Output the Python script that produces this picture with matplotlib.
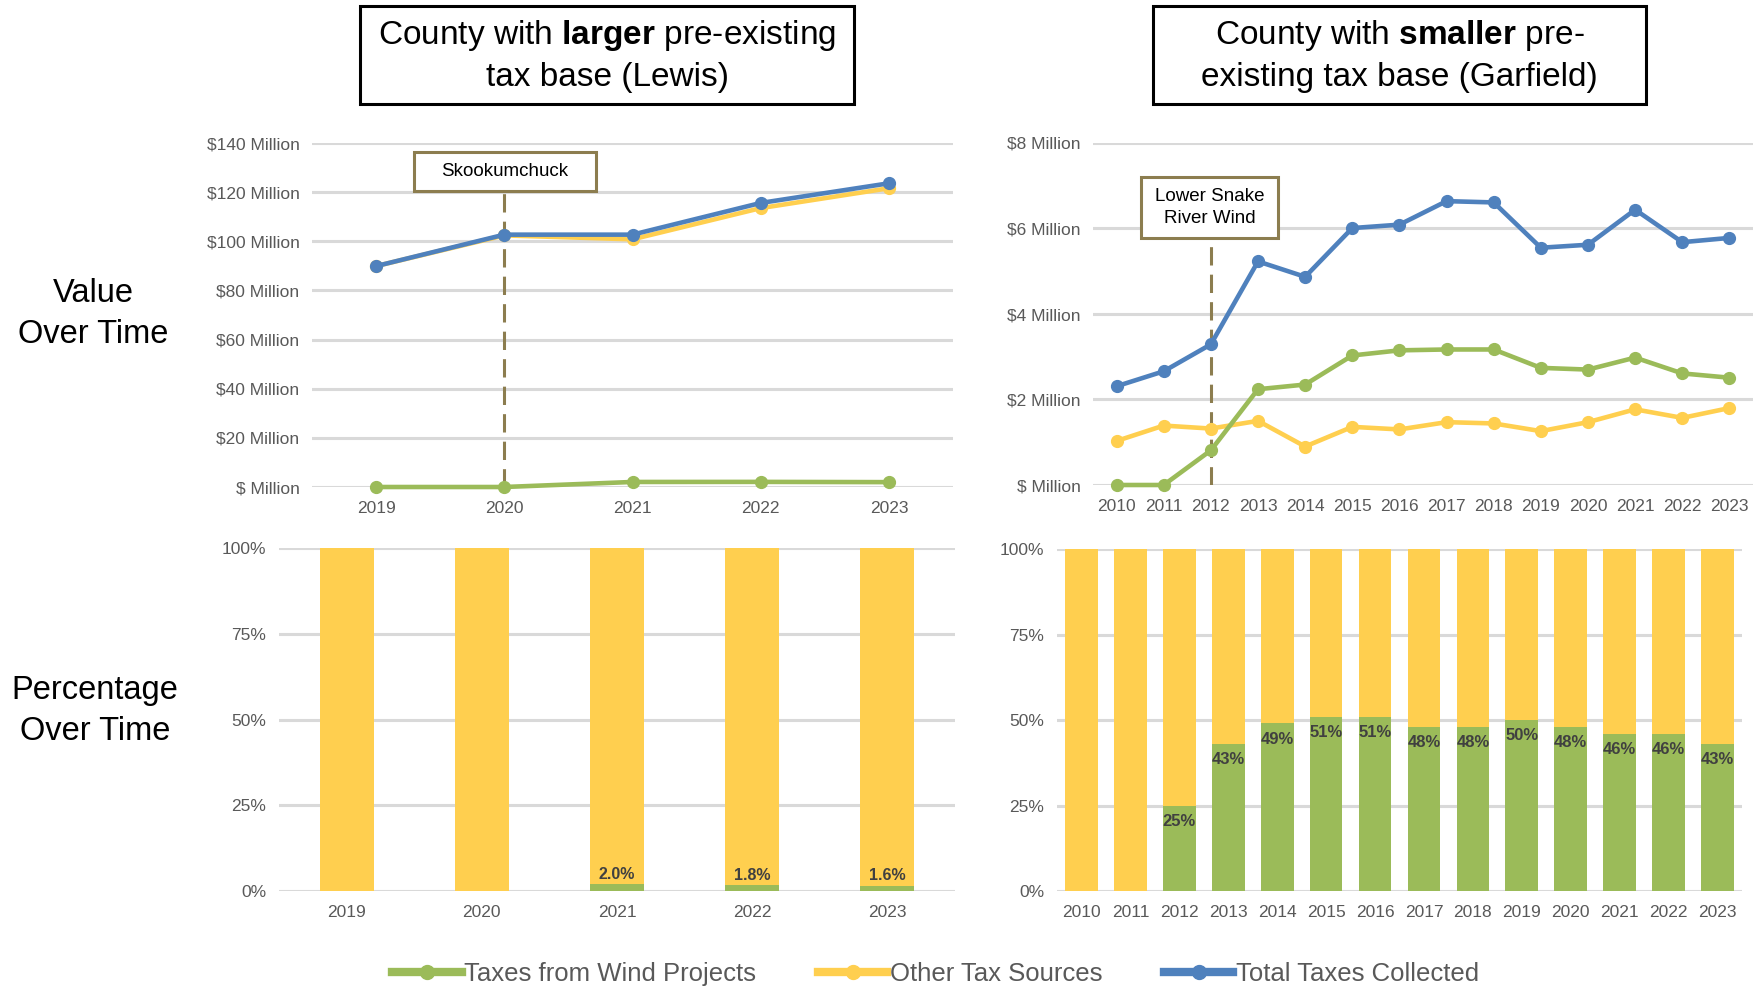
import matplotlib
matplotlib.use('Agg')
import matplotlib.pyplot as plt
from matplotlib.lines import Line2D
from matplotlib.patches import Rectangle

plt.rcParams['font.family'] = ['Liberation Sans', 'DejaVu Sans']
plt.rcParams['mathtext.fontset'] = 'custom'
plt.rcParams['mathtext.rm'] = 'Liberation Sans'
plt.rcParams['mathtext.bf'] = 'Liberation Sans:bold'

# Lewis County, $ millions
lewis_years = ['2019', '2020', '2021', '2022', '2023']
lewis_wind = [0.0, 0.0, 2.05, 2.08, 1.98]
lewis_other = [89.9, 102.4, 100.8, 113.5, 121.6]
lewis_total = [89.9, 102.7, 102.7, 115.6, 123.6]
lewis_wind_pct = [0.0, 0.0, 2.0, 1.8, 1.6]

# Garfield County, $ millions
garfield_years = ['2010', '2011', '2012', '2013', '2014', '2015', '2016',
                  '2017', '2018', '2019', '2020', '2021', '2022', '2023']
garfield_wind = [0.0, 0.0, 0.81, 2.24, 2.35, 3.03, 3.15,
                 3.17, 3.17, 2.74, 2.70, 2.98, 2.61, 2.51]
garfield_other = [1.03, 1.39, 1.32, 1.50, 0.90, 1.36, 1.30,
                  1.47, 1.44, 1.26, 1.47, 1.77, 1.57, 1.80]
garfield_total = [2.31, 2.66, 3.29, 5.23, 4.87, 6.01, 6.09,
                  6.64, 6.61, 5.55, 5.62, 6.44, 5.68, 5.78]
garfield_wind_pct = [0, 0, 25, 43, 49, 51, 51, 48, 48, 50, 48, 46, 46, 43]

lewis_ticks = [0, 20, 40, 60, 80, 100, 120, 140]
garfield_ticks = [0, 2, 4, 6, 8]
pct_ticks = [0, 25, 50, 75, 100]

GREEN = '#9bbb59'
YELLOW = '#ffcf4f'
BLUE = '#4f81bd'
GRID = '#d9d9d9'
TICK = '#595959'
OLIVE = '#8c7d4f'

W, H = 1762, 988
fig = plt.figure(figsize=(W / 100, H / 100), dpi=100)


def px_axes(x0, y0, x1, y1):
    # axes from pixel box (top-left origin)
    return fig.add_axes([x0 / W, 1 - y1 / H, (x1 - x0) / W, (y1 - y0) / H])


def style(ax, n, ticks, labels):
    ax.set_xlim(-0.5, n - 0.5)
    ax.set_ylim(ticks[0], ticks[-1])
    ax.set_yticks(ticks)
    ax.set_yticklabels(labels)
    for s in ax.spines.values():
        s.set_visible(False)
    ax.tick_params(length=0, labelsize=12.5, labelcolor=TICK, pad=9)
    ax.tick_params(axis='x', pad=10)
    ax.grid(axis='y', color=GRID, linewidth=2.2)
    ax.set_axisbelow(True)


def line_panel(ax, years, wind, other, total, ticks):
    x = range(len(years))
    kw = dict(marker='o', markersize=8.5, linewidth=3.3, clip_on=False)
    ax.plot(x, other, color=YELLOW, zorder=3, **kw)
    ax.plot(x, wind, color=GREEN, zorder=4, **kw)
    ax.plot(x, total, color=BLUE, zorder=5, **kw)
    labels = ['$ Million' if t == 0 else f'${t} Million' for t in ticks]
    style(ax, len(years), ticks, labels)
    ax.set_xticks(list(x))
    ax.set_xticklabels(years)


def bar_panel(ax, years, pct, width, fmt, inside):
    x = list(range(len(years)))
    rest = [100 - p for p in pct]
    ax.bar(x, pct, width=width, color=GREEN, zorder=2)
    ax.bar(x, rest, bottom=pct, width=width, color=YELLOW, zorder=2)
    for xi, p in zip(x, pct):
        if p <= 0:
            continue
        if inside:
            ax.annotate(fmt.format(p), (xi, p), xytext=(0, -6), textcoords='offset points',
                        ha='center', va='top', fontsize=12, fontweight='bold',
                        color='#404040', zorder=4)
        else:
            ax.annotate(fmt.format(p), (xi, p), xytext=(0, 1.5), textcoords='offset points',
                        ha='center', va='bottom', fontsize=11.5, fontweight='bold',
                        color='#404040', zorder=4)
    style(ax, len(years), pct_ticks, [f'{t}%' for t in pct_ticks])
    ax.set_xticks(x)
    ax.set_xticklabels(years)


def event_marker(ax, xpos, text, box):
    # labelled box with a dashed drop line to the axis
    bx0, by0, bx1, by1 = box
    ax.add_patch(Rectangle((bx0, by0), bx1 - bx0, by1 - by0, transform=ax.transAxes,
                           facecolor='white', edgecolor=OLIVE, linewidth=2.2,
                           zorder=6, clip_on=False))
    ax.text((bx0 + bx1) / 2, (by0 + by1) / 2, text, transform=ax.transAxes,
            ha='center', va='center', fontsize=13.5, color='black', zorder=7,
            linespacing=1.35)
    ax.axvline(xpos, ymin=0, ymax=by0, color=OLIVE, linewidth=2.2,
               linestyle=(0, (6, 3)), zorder=2)


ax_tl = px_axes(312, 143, 953, 487)
line_panel(ax_tl, lewis_years, lewis_wind, lewis_other, lewis_total, lewis_ticks)
event_marker(ax_tl, 1, 'Skookumchuck', (0.159, 0.860, 0.443, 0.974))

ax_tr = px_axes(1093, 143, 1753, 485)
line_panel(ax_tr, garfield_years, garfield_wind, garfield_other, garfield_total, garfield_ticks)
event_marker(ax_tr, 2, 'Lower Snake\nRiver Wind', (0.073, 0.722, 0.280, 0.901))

ax_bl = px_axes(279, 548, 955, 891)
bar_panel(ax_bl, lewis_years, lewis_wind_pct, 0.4, '{:.1f}%', inside=False)

ax_br = px_axes(1057, 549, 1742, 891)
bar_panel(ax_br, garfield_years, garfield_wind_pct, 0.67, '{:.0f}%', inside=True)

# county header boxes
for (x0, x1), title in [((360, 854), 'County with $\\bf{larger}$ pre-existing\ntax base (Lewis)'),
                        ((1153, 1646), 'County with $\\bf{smaller}$ pre-\nexisting tax base (Garfield)')]:
    fig.add_artist(Rectangle((x0 / W, 1 - 104 / H), (x1 - x0) / W, 98 / H,
                             transform=fig.transFigure, fill=False,
                             edgecolor='black', linewidth=2.2))
    fig.text((x0 + x1) / 2 / W, 1 - 55.5 / H, title, ha='center', va='center',
             fontsize=24, linespacing=1.4)

fig.text(93 / W, 1 - 314 / H, 'Value\nOver Time', ha='center', va='center',
         fontsize=23.5, linespacing=1.45)
fig.text(95 / W, 1 - 711 / H, 'Percentage\nOver Time', ha='center', va='center',
         fontsize=23.5, linespacing=1.45)

handles = [Line2D([], [], color=c, linewidth=6, marker='o', markersize=10)
           for c in (GREEN, YELLOW, BLUE)]
fig.legend(handles, ['Taxes from Wind Projects', 'Other Tax Sources', 'Total Taxes Collected'],
           loc='center', bbox_to_anchor=(0.531, 1 - 974 / H), ncol=3, frameon=False,
           fontsize=18.5, labelcolor=TICK, handlelength=2.7, handletextpad=0.1,
           columnspacing=2.4)

fig.savefig('out.png', dpi=100)
